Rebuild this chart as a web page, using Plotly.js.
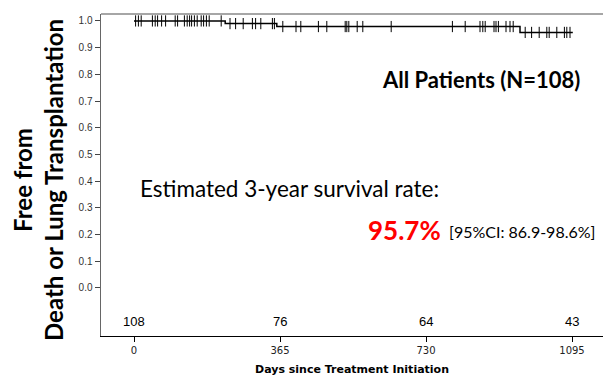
<!DOCTYPE html>
<html>
<head>
<meta charset="utf-8">
<script src="https://cdn.plot.ly/plotly-3.0.1.min.js"></script>
<style>html,body{margin:0;padding:0;background:#fff;}#chart{width:605px;height:378px;}</style>
</head>
<body>
<div id="chart"></div>
<script>
// Kaplan-Meier step curve (days, survival)
const stepDays = [0, 228, 357, 965, 1097];
const stepSurv = [1.0, 0.990, 0.979, 0.957, 0.957];

// Censored observations (days)
const censorDays = [4, 11, 18, 46, 53, 59, 69, 79, 103, 109, 126, 133, 139, 144, 151, 158, 168, 174, 181, 188, 218,
  240, 254, 273, 296, 304, 317, 346, 351,
  372, 405, 417, 461, 482, 528, 532, 537, 558, 572, 643, 796, 828, 865, 872, 878, 900, 905, 911, 930, 940, 948,
  978, 994, 1013, 1032, 1038, 1057, 1076, 1082, 1090];

// Number at risk
const riskDays = [0, 365, 730, 1095];
const riskCounts = [108, 76, 64, 43];

const xTickVals = [0, 365, 730, 1095];
const yTickVals = [0, 0.1, 0.2, 0.3, 0.4, 0.5, 0.6, 0.7, 0.8, 0.9, 1.0];

function survAt(d) {
  let s = stepSurv[0];
  for (let i = 0; i < stepDays.length; i++) { if (stepDays[i] <= d) s = stepSurv[i]; }
  return s;
}
const censorSurv = censorDays.map(survAt);

const traces = [
  {x: stepDays, y: stepSurv, type: 'scatter', mode: 'lines', line: {shape: 'hv', color: '#000', width: 1.5}, hoverinfo: 'skip'},
  {x: censorDays, y: censorSurv, type: 'scatter', mode: 'markers',
   marker: {symbol: 'line-ns', size: 8, line: {color: '#000', width: 1}}, hoverinfo: 'skip'}
];

const annotations = riskDays.map((d, i) => ({
  x: d, y: -0.127, xref: 'x', yref: 'y', text: String(riskCounts[i]), showarrow: false,
  font: {family: 'Liberation Sans, Arial, sans-serif', size: 13, color: '#000'}
}));

annotations.push(
  {text: '<b>All Patients (N=108)</b>', xref: 'paper', yref: 'paper',
   x: (582 - 101) / 502, y: (336 - 79) / 322, xanchor: 'right', yanchor: 'middle', showarrow: false,
   font: {family: 'Lato, sans-serif', size: 22, color: '#000'}},
  {text: 'Estimated 3-year survival rate:', xref: 'paper', yref: 'paper',
   x: (138 - 101) / 502, y: (336 - 188) / 322, xanchor: 'left', yanchor: 'middle', showarrow: false,
   font: {family: 'Lato, sans-serif', size: 22.5, color: '#000'}},
  {text: '<b>95.7%</b>', xref: 'paper', yref: 'paper',
   x: (443 - 101) / 502, y: (336 - 230) / 322, xanchor: 'right', yanchor: 'middle', showarrow: false,
   font: {family: 'Lato, sans-serif', size: 26, color: '#ff0000'}},
  {text: '[95%CI: 86.9-98.6%]', xref: 'paper', yref: 'paper',
   x: (447 - 101) / 502, y: (336 - 231) / 322, xanchor: 'left', yanchor: 'middle', showarrow: false,
   font: {family: 'Lato, sans-serif', size: 16, color: '#000'}},
  {text: '<b>Free from<br>Death or Lung Transplantation</b>', xref: 'paper', yref: 'paper',
   x: (38 - 101) / 502, y: (336 - 180) / 322, xanchor: 'center', yanchor: 'middle', textangle: -90, showarrow: false,
   font: {family: 'Lato, sans-serif', size: 24, color: '#000'}}
);

const layout = {
  width: 605, height: 378,
  margin: {l: 101, r: 2, t: 14, b: 42},
  paper_bgcolor: '#fff', plot_bgcolor: '#fff',
  showlegend: false,
  xaxis: {
    range: [-82.5, 1172.5], tickvals: xTickVals, ticktext: xTickVals.map(String),
    ticks: 'outside', ticklen: 5, tickcolor: '#000', showline: true, linecolor: '#000', linewidth: 1,
    showgrid: false, zeroline: false,
    tickfont: {family: 'DejaVu Sans, sans-serif', size: 10, color: '#222'},
    title: {text: '<b>Days since Treatment Initiation</b>', standoff: 10,
            font: {family: 'DejaVu Sans, sans-serif', size: 11, color: '#000'}}
  },
  yaxis: {
    range: [-0.18, 1.026], tickvals: yTickVals, ticktext: yTickVals.map(v => v.toFixed(1)),
    ticks: 'outside', ticklen: 5, tickcolor: '#444', showline: true, linecolor: '#666', linewidth: 1.5,
    showgrid: false, zeroline: false,
    tickfont: {family: 'Liberation Sans, Arial, sans-serif', size: 10, color: '#333'}
  },
  shapes: [
    {type: 'line', xref: 'paper', yref: 'paper', x0: 0, x1: 1, y0: 1, y1: 1, line: {color: '#888', width: 1.5}}
  ],
  annotations: annotations
};

Plotly.newPlot('chart', traces, layout, {staticPlot: true, displayModeBar: false});
</script>
</body>
</html>
